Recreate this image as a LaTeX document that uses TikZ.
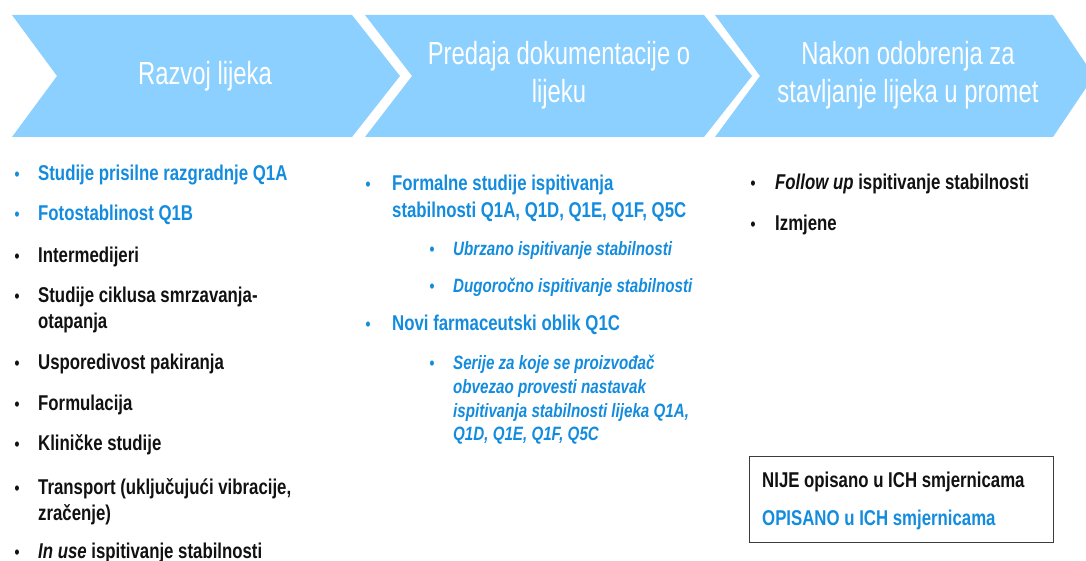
\documentclass[tikz,border=0pt]{standalone}
\usepackage{fontspec}
\setmainfont{Liberation Sans}
\newfontfamily\hdfont[FakeStretch=0.745]{Liberation Sans}
\newfontfamily\bdfont[FakeStretch=0.785]{Liberation Sans}
\definecolor{chev}{RGB}{139,208,254}
\definecolor{ichblue}{RGB}{20,140,222}
\definecolor{txt}{RGB}{17,17,17}
\definecolor{boxline}{RGB}{60,60,60}
\tikzset{
  chevron/.style={fill=chev,draw=none},
  head/.style={text=white,inner sep=0pt,align=center,font=\hdfont\fontsize{32}{38}\selectfont},
  item/.style={anchor=mid west,inner sep=0pt,yshift=-5pt,font=\bdfont\bfseries\fontsize{21.4}{25}\selectfont},
  subitem/.style={anchor=mid west,inner sep=0pt,yshift=-5pt,font=\bdfont\bfseries\itshape\fontsize{19.3}{24}\selectfont},
  bul/.style={anchor=mid,inner sep=0pt,yshift=-5pt,font=\bdfont\bfseries\fontsize{18}{20}\selectfont},
  inich/.style={text=ichblue},
  notich/.style={text=txt},
  legendbox/.style={draw=boxline,line width=1pt,fill=white}
}
\begin{document}
\begin{tikzpicture}[x=1pt,y=-1pt]
\useasboundingbox (0,0) rectangle (1086,561);
\clip (0,0) rectangle (1086,561);
% chevrons
\path[chevron] (12,15) -- (352,15) -- (400,76) -- (352,137) -- (12,137) -- (57,76) -- cycle;
\path[chevron] (365,15) -- (704,15) -- (752,76) -- (704,137) -- (365,137) -- (412,76) -- cycle;
\path[chevron] (715,15) -- (1053,15) -- (1094,76) -- (1053,137) -- (715,137) -- (760,76) -- cycle;
\node[head] (h1) at (205,76) {Razvoj lijeka};
\node[head] (h2) at (559,75) {Predaja dokumentacije o\\lijeku};
\node[head] (h3) at (908,75) {Nakon odobrenja za\\stavljanje lijeka u promet};

% column 1
\node[bul,inich] (b1) at (17,173) {•};
\node[item,inich] (t1) at (38,173) {Studije prisilne razgradnje Q1A};
\node[bul,inich] (b2) at (17,213) {•};
\node[item,inich] (t2) at (38,213) {Fotostablinost Q1B};
\node[bul,notich] (b3) at (17,255) {•};
\node[item,notich] (t3) at (38,255) {Intermedijeri};
\node[bul,notich] (b4) at (17,295) {•};
\node[item,notich] (t4a) at (38,295) {Studije ciklusa smrzavanja-};
\node[item,notich] (t4b) at (38,321) {otapanja};
\node[bul,notich] (b5) at (17,362) {•};
\node[item,notich] (t5) at (38,362) {Usporedivost pakiranja};
\node[bul,notich] (b6) at (17,403) {•};
\node[item,notich] (t6) at (38,403) {Formulacija};
\node[bul,notich] (b7) at (17,443) {•};
\node[item,notich] (t7) at (38,443) {Kliničke studije};
\node[bul,notich] (b8) at (17,487) {•};
\node[item,notich] (t8a) at (38,487) {Transport (uključujući vibracije,};
\node[item,notich] (t8b) at (38,513) {zračenje)};
\node[bul,notich] (b9) at (17,551) {•};
\node[item,notich] (t9) at (38,551) {{\itshape In use} ispitivanje stabilnosti};

% column 2
\node[bul,inich] (c1) at (368,183) {•};
\node[item,inich] (u1a) at (392,183) {Formalne studije ispitivanja};
\node[item,inich] (u1b) at (392,210) {stabilnosti Q1A, Q1D, Q1E, Q1F, Q5C};
\node[bul,inich] (c2) at (432,248) {•};
\node[subitem,inich] (u2) at (453,248) {Ubrzano ispitivanje stabilnosti};
\node[bul,inich] (c3) at (432,285) {•};
\node[subitem,inich] (u3) at (453,285) {Dugoročno ispitivanje stabilnosti};
\node[bul,inich] (c4) at (368,323) {•};
\node[item,inich] (u4) at (392,323) {Novi farmaceutski oblik Q1C};
\node[bul,inich] (c5) at (432,362) {•};
\node[subitem,inich] (u5a) at (453,362) {Serije za koje se proizvođač};
\node[subitem,inich] (u5b) at (453,386) {obvezao provesti nastavak};
\node[subitem,inich] (u5c) at (453,410) {ispitivanja stabilnosti lijeka Q1A,};
\node[subitem,inich] (u5d) at (453,433) {Q1D, Q1E, Q1F, Q5C};

% column 3
\node[bul,notich] (d1) at (753,182) {•};
\node[item,notich] (v1) at (775,182) {{\itshape Follow up} ispitivanje stabilnosti};
\node[bul,notich] (d2) at (753,223) {•};
\node[item,notich] (v2) at (775,223) {Izmjene};

% legend
\draw[legendbox] (749,456) rectangle (1053,542);
\node[item,notich] (l1) at (762,480) {NIJE opisano u ICH smjernicama};
\node[item,inich] (l2) at (762,518) {OPISANO u ICH smjernicama};
\end{tikzpicture}
\end{document}
